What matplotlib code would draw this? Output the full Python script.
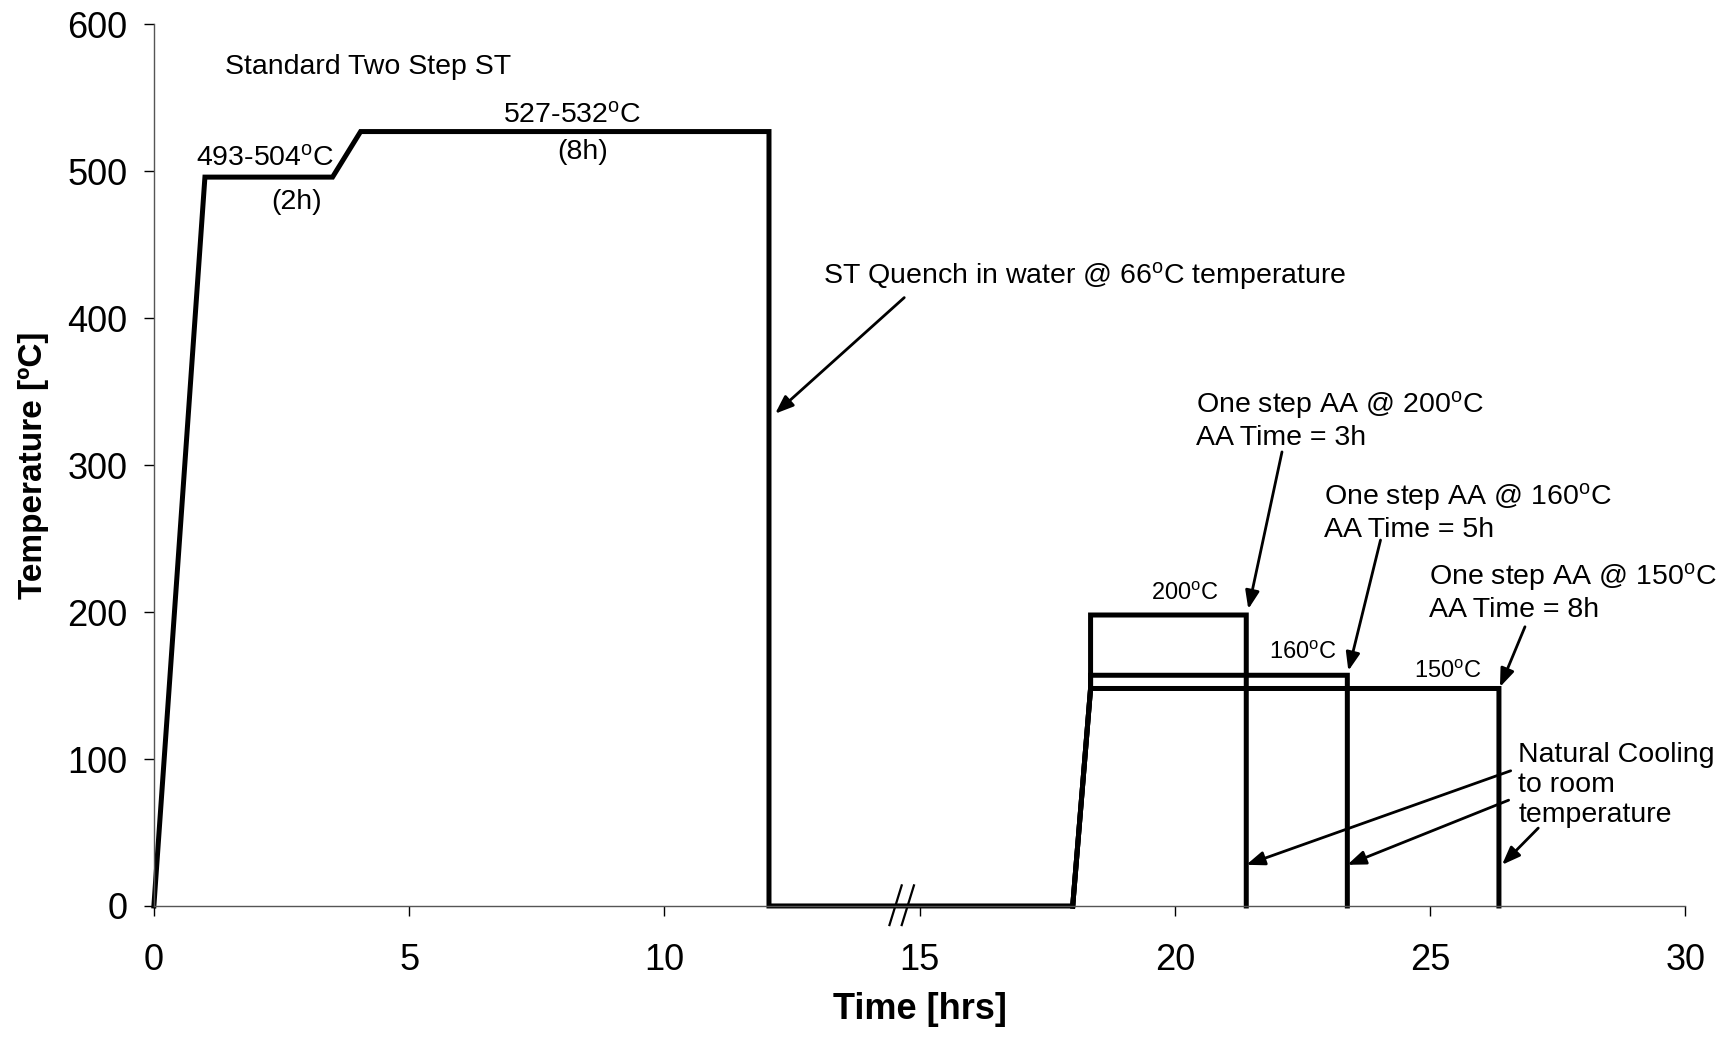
import matplotlib
matplotlib.use("Agg")
import matplotlib.pyplot as plt

plt.rcParams['font.family'] = ['Liberation Sans', 'DejaVu Sans']
plt.rcParams['mathtext.fontset'] = 'custom'
plt.rcParams['mathtext.rm'] = 'Liberation Sans'
plt.rcParams['mathtext.it'] = 'Liberation Sans'

# profil de mise en solution (temps en h, température en °C)
st_temps = [0, 1.0, 3.5, 4.05, 12.05, 12.05, 18.0]
st_vals = [0, 496, 496, 527, 527, 0, 0]

# revenus en une étape : montée commune puis palier et refroidissement
aa_start = [18.0, 18.35]
aa_ends = [21.4, 23.38, 26.35]
aa_levels = [198, 157, 148]
aa_labels = ["200$^\\mathrm{o}$C", "160$^\\mathrm{o}$C", "150$^\\mathrm{o}$C"]
aa_label_pos = [(20.2, 205), (22.5, 165), (25.35, 152)]

x_ticks = [0, 5, 10, 15, 20, 25, 30]
y_ticks = [0, 100, 200, 300, 400, 500, 600]
break_at = 14.65

fig = plt.figure(figsize=(17.29, 10.38), dpi=100)
ax = fig.add_axes([0.089, 0.1272, 0.8857, 0.8494])

ax.plot(st_temps, st_vals, color='black', lw=3.6, clip_on=False,
        solid_joinstyle='miter')
for fin, niveau in zip(aa_ends, aa_levels):
    ax.plot(aa_start + [aa_start[1], fin, fin],
            [0, aa_levels[-1], niveau, niveau, 0],
            color='black', lw=3.6, clip_on=False, solid_joinstyle='miter')
for txt, (x, y) in zip(aa_labels, aa_label_pos):
    ax.text(x, y, txt, fontsize=17, ha='center', va='bottom')

# marque de coupure "//" sur l'axe du temps
for dx in (-0.12, 0.12):
    ax.plot([break_at + dx - 0.12, break_at + dx + 0.12], [-13, 14],
            color='black', lw=1.6, clip_on=False)

ax.set_xlim(0, 30)
ax.set_ylim(0, 600)
ax.set_xticks(x_ticks)
ax.set_yticks(y_ticks)
ax.tick_params(axis='x', labelsize=26, length=7, width=1, pad=20, direction='out')
ax.tick_params(axis='y', labelsize=26, length=7, width=1, pad=12, direction='out')
for s in ('top', 'right'):
    ax.spines[s].set_visible(False)
for s in ('left', 'bottom'):
    ax.spines[s].set_color('#555555')
    ax.spines[s].set_linewidth(1)

ax.set_xlabel("Time [hrs]", fontsize=26, fontweight='bold', labelpad=10)
ax.set_ylabel("Temperature [ºC]", fontsize=24, fontweight='bold', labelpad=13)

# annotations
ax.text(1.4, 571, "Standard Two Step ST", fontsize=20.5, va='center')
ax.text(2.18, 500, "493-504$^\\mathrm{o}$C", fontsize=20.5, ha='center', va='bottom')
ax.text(2.8, 479, "(2h)", fontsize=20.5, ha='center', va='center')
ax.text(8.2, 529, "527-532$^\\mathrm{o}$C", fontsize=20.5, ha='center', va='bottom')
ax.text(8.4, 513, "(8h)", fontsize=20.5, ha='center', va='center')

arrow = dict(arrowstyle='-|>,head_length=1.1,head_width=0.42', color='black',
             lw=2, shrinkA=0, shrinkB=0)
ax.text(13.1, 429, "ST Quench in water @ 66$^\\mathrm{o}$C temperature",
        fontsize=20.5, va='center')
ax.annotate("", xy=(12.17, 335), xytext=(14.7, 414), arrowprops=arrow)

ax.text(20.42, 331, "One step AA @ 200$^\\mathrm{o}$C\nAA Time = 3h",
        fontsize=20.5, va='center', linespacing=1.2)
ax.annotate("", xy=(21.44, 202), xytext=(22.1, 309), arrowprops=arrow)

ax.text(22.93, 268, "One step AA @ 160$^\\mathrm{o}$C\nAA Time = 5h",
        fontsize=20.5, va='center', linespacing=1.2)
ax.annotate("", xy=(23.4, 160), xytext=(24.03, 249), arrowprops=arrow)

ax.text(24.98, 214, "One step AA @ 150$^\\mathrm{o}$C\nAA Time = 8h",
        fontsize=20.5, va='center', linespacing=1.2)
ax.annotate("", xy=(26.37, 149), xytext=(26.86, 190), arrowprops=arrow)

ax.text(26.73, 82, "Natural Cooling\nto room\ntemperature",
        fontsize=20.5, va='center', linespacing=1.2)
ax.annotate("", xy=(21.4, 28), xytext=(26.58, 92), arrowprops=arrow)
ax.annotate("", xy=(23.38, 28), xytext=(26.54, 72), arrowprops=arrow)
ax.annotate("", xy=(26.41, 28), xytext=(27.12, 53), arrowprops=arrow)

fig.savefig("out.png", dpi=100)
